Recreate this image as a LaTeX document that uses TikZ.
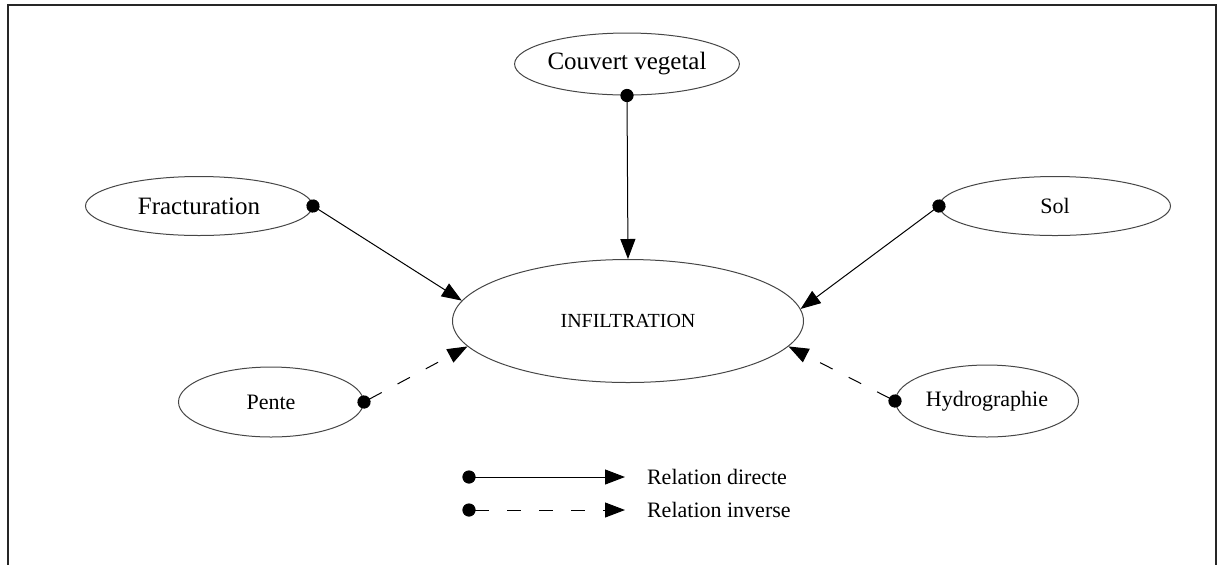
\documentclass[tikz,border=0pt]{standalone}
\usepackage{fontspec}
\setmainfont{Liberation Serif}
\usetikzlibrary{arrows.meta,shapes.geometric}
\definecolor{traitgris}{RGB}{70,70,70}

\begin{document}
\begin{tikzpicture}[
      x=0.5pt, y=-0.5pt,
      ovale/.style={draw=traitgris, ellipse, line width=0.5pt, inner sep=0pt,
                    font=\fontsize{11}{13}\selectfont},
      grand/.style={font=\fontsize{12.5}{15}\selectfont},
      directe/.style={{Circle[length=6.6pt]}-{Triangle[length=10pt,width=7.5pt]},
                      line width=0.5pt, shorten <=-3.3pt},
      inverse/.style={directe, dash pattern=on 7pt off 9pt},
      legende/.style={font=\fontsize{11}{13}\selectfont, anchor=west},
    ]
    \useasboundingbox (0,0) rectangle (1223,564);
    \draw[line width=1pt, black!85] (8,5) rectangle (1216,600);

    \node[ovale, minimum width=175.5pt, minimum height=61.5pt] (infil) at (628,321)
      {\fontsize{10}{12}\selectfont INFILTRATION};
    \node[ovale, grand, minimum width=100pt, minimum height=31pt] (couvert) at (627,64) {Couvert vegetal};
    \node[ovale, grand, minimum width=113.5pt, minimum height=29.5pt] (frac) at (199,206) {Fracturation};
    \node[ovale, minimum width=115.5pt, minimum height=29.5pt] (sol) at (1055,206) {Sol};
    \node[ovale, minimum width=92.5pt, minimum height=35pt] (pente) at (271,402) {Pente};
    \node[ovale, minimum width=91.5pt, minimum height=36pt] (hydro) at (987,401) {Hydrographie};

    \draw[directe] (couvert.south) -- (infil.north);
    \draw[directe] (frac.east) -- (infil.173.9);
    \draw[directe] (sol.west) -- (infil.4.7);
    \draw[inverse] (pente.east) -- (infil.189.5);
    \draw[inverse] (hydro.west) -- (infil.-9.2);

    % legende
    \coordinate (d1) at (469,477); \coordinate (d2) at (625,477);
    \coordinate (i1) at (469,510); \coordinate (i2) at (625,510);
    \draw[directe] (d1) -- (d2);
    \draw[inverse] (i1) -- (i2);
    \node[legende] (ld) at (640,477) {Relation directe};
    \node[legende] (li) at (640,510) {Relation inverse};
  \end{tikzpicture}
\end{document}
